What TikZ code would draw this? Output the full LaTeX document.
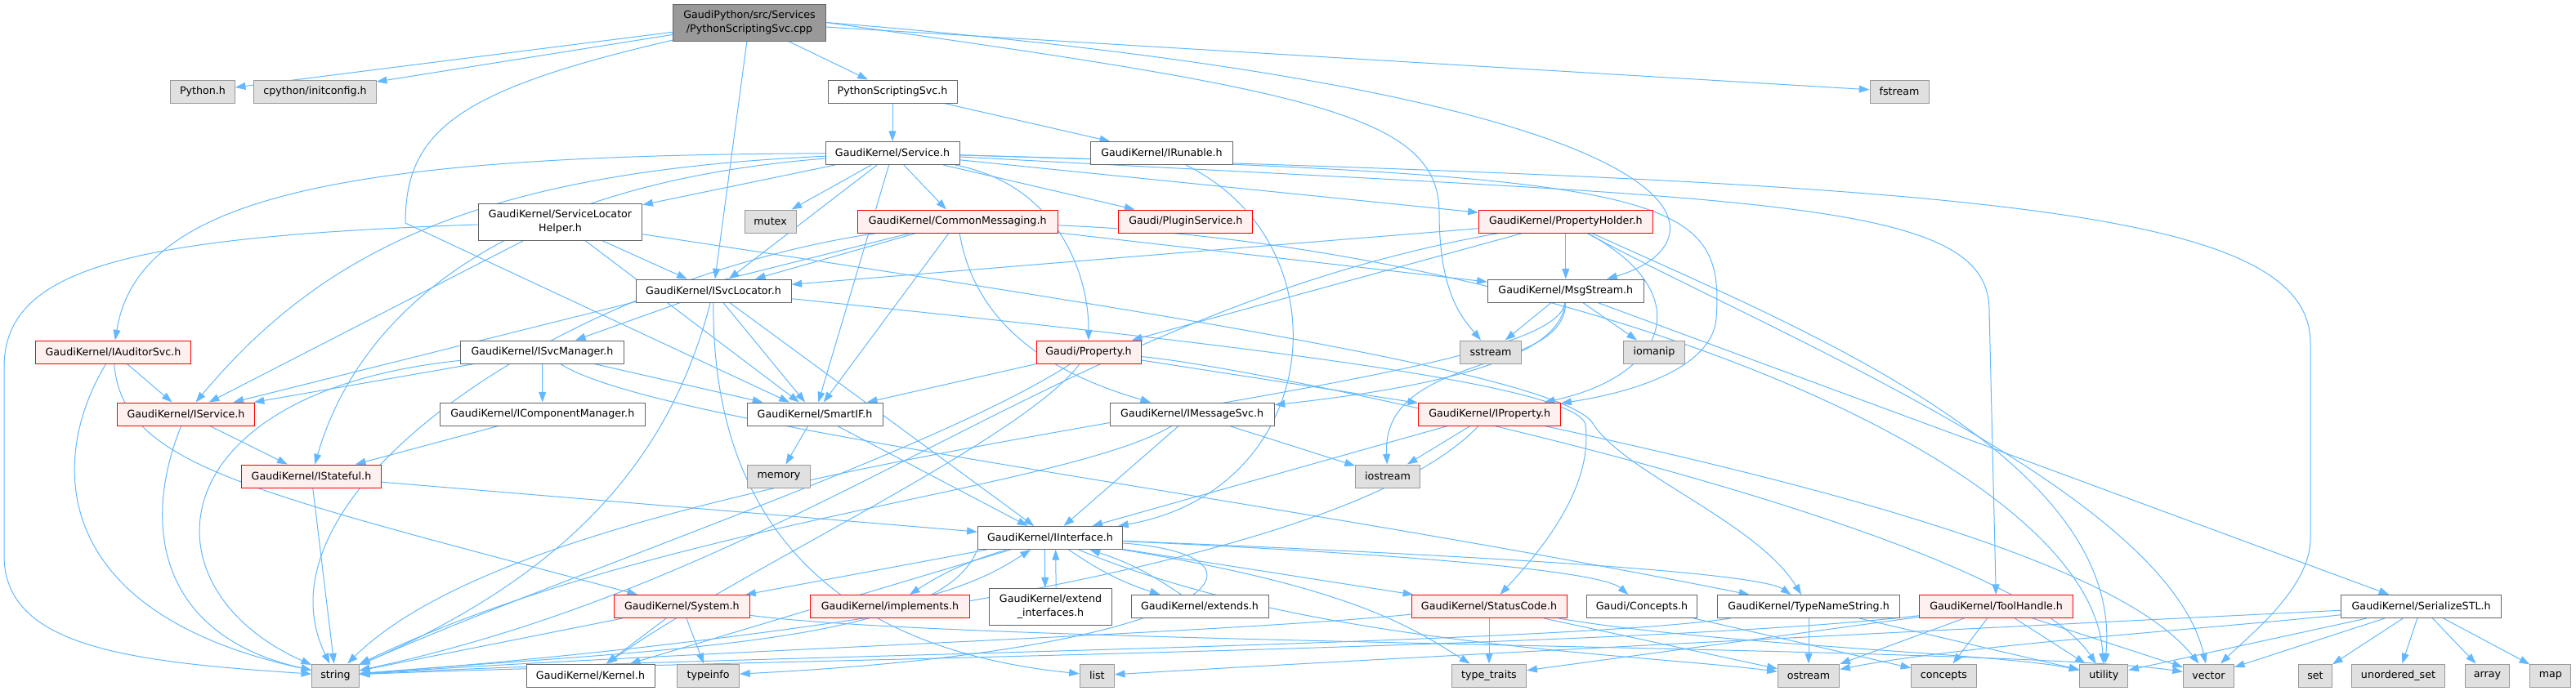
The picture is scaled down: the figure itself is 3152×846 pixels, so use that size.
\documentclass[tikz,border=0pt]{standalone}
\usepackage{fontspec}
\newfontfamily\dox{DejaVu Sans}
\usepackage{xcolor}
\usepackage{tikz}
\usetikzlibrary{arrows.meta}
\pgfdeclarelayer{background}
\pgfsetlayers{background,main}
\definecolor{edgeblue}{HTML}{63B8FF}
\definecolor{grey40}{HTML}{666666}
\definecolor{grey60}{HTML}{999999}
\definecolor{sysfill}{HTML}{E0E0E0}
\definecolor{truncfill}{HTML}{FFF0F0}
\tikzstyle{hdr}=[draw=grey40,fill=white,line width=.75pt,inner sep=0pt,minimum height=21pt,align=center,font=\dox\fontsize{9.5}{12.5}\selectfont]
\tikzstyle{trunc}=[hdr,draw=red,fill=truncfill]
\tikzstyle{sys}=[hdr,draw=grey60,fill=sysfill]
\tikzstyle{rootbox}=[hdr,fill=grey60]
\tikzstyle{twoline}=[minimum height=33.75pt]
\tikzstyle{inchead}=[>/.tip={Triangle[length=9.5pt,width=6.7pt]}]
\tikzstyle{inc}=[line width=.75pt,draw=edgeblue,inchead,->]

\begin{document}
\begin{tikzpicture}[x=0.75pt,y=-0.75pt]
	\useasboundingbox (0,0) rectangle (3152,846);
	% files
	\node[rootbox,twoline,minimum width=140.25pt] (root) at (917,27.5) {GaudiPython/src/Services\\/PythonScriptingSvc.cpp};
	\node[sys,minimum width=58.9pt]    (python)     at (248,112)    {Python.h};
	\node[sys,minimum width=112.1pt]   (initcfg)    at (385.5,112)  {cpython/initconfig.h};
	\node[hdr,minimum width=118.5pt]   (pysvch)     at (1092,112)   {PythonScriptingSvc.h};
	\node[sys,minimum width=54pt]      (fstream)    at (2324,112)   {fstream};
	\node[hdr,minimum width=123pt]     (service)    at (1092,187.5) {GaudiKernel/Service.h};
	\node[hdr,minimum width=130.1pt]   (irunable)   at (1421.5,187.5) {GaudiKernel/IRunable.h};
	\node[hdr,twoline,minimum width=150.4pt] (slhelper) at (685.5,271.5) {GaudiKernel/ServiceLocator\\Helper.h};
	\node[sys,minimum width=47.25pt]   (mutex)      at (942.6,271)  {mutex};
	\node[trunc,minimum width=183.75pt] (commsg)    at (1171.7,271) {GaudiKernel/CommonMessaging.h};
	\node[trunc,minimum width=123pt]   (plugin)     at (1450.8,271) {Gaudi/PluginService.h};
	\node[trunc,minimum width=159.75pt] (propholder) at (1915.8,271) {GaudiKernel/PropertyHolder.h};
	\node[hdr,minimum width=142.5pt]   (isvcloc)    at (873,356)    {GaudiKernel/ISvcLocator.h};
	\node[hdr,minimum width=143.25pt]  (msgstream)  at (1915.8,356) {GaudiKernel/MsgStream.h};
	\node[trunc,minimum width=142.5pt] (iauditor)   at (138.5,431)  {GaudiKernel/IAuditorSvc.h};
	\node[hdr,minimum width=149.6pt]   (isvcmgr)    at (663.5,431)  {GaudiKernel/ISvcManager.h};
	\node[trunc,minimum width=96pt]    (property)   at (1332,431)   {Gaudi/Property.h};
	\node[sys,minimum width=55.9pt]    (sstream)    at (1824,431)   {sstream};
	\node[sys,minimum width=55.9pt]    (iomanip)    at (2024,431)   {iomanip};
	\node[trunc,minimum width=126pt]   (iservice)   at (227.5,507)  {GaudiKernel/IService.h};
	\node[hdr,minimum width=188.25pt]  (icompmgr)   at (663.8,507)  {GaudiKernel/IComponentManager.h};
	\node[hdr,minimum width=124.5pt]   (smartif)    at (997,507)    {GaudiKernel/SmartIF.h};
	\node[hdr,minimum width=150.75pt]  (imsgsvc)    at (1458.7,507) {GaudiKernel/IMessageSvc.h};
	\node[trunc,minimum width=130.5pt] (iproperty)  at (1822.7,507) {GaudiKernel/IProperty.h};
	\node[trunc,minimum width=128.25pt] (istateful) at (381,583)    {GaudiKernel/IStateful.h};
	\node[sys,minimum width=57.4pt]    (memory)     at (953,583)    {memory};
	\node[sys,minimum width=59.25pt]   (iostream)   at (1698,583)   {iostream};
	\node[hdr,minimum width=133.1pt]   (iinterface) at (1285,658.5) {GaudiKernel/IInterface.h};
	\node[trunc,minimum width=124.5pt] (system)     at (834.4,742.5) {GaudiKernel/System.h};
	\node[trunc,minimum width=145.8pt] (implements) at (1089,742.5) {GaudiKernel/implements.h};
	\node[hdr,twoline,minimum width=112.1pt] (extendif) at (1285.5,742.5) {GaudiKernel/extend\\\_interfaces.h};
	\node[hdr,minimum width=126pt]     (extends)    at (1468,742.5) {GaudiKernel/extends.h};
	\node[trunc,minimum width=142.5pt] (statuscode) at (1822,742.5) {GaudiKernel/StatusCode.h};
	\node[hdr,minimum width=101.25pt]  (concepts)   at (2009,742.5) {Gaudi/Concepts.h};
	\node[hdr,minimum width=167.6pt]   (typename)   at (2213,742.5) {GaudiKernel/TypeNameString.h};
	\node[trunc,minimum width=141pt]   (toolhandle) at (2442.6,742.5) {GaudiKernel/ToolHandle.h};
	\node[hdr,minimum width=147pt]     (serstl)     at (2962.6,742.5) {GaudiKernel/SerializeSTL.h};
	\node[sys,minimum width=43.3pt]    (string)     at (410.5,827)  {string};
	\node[hdr,minimum width=117.75pt]  (kernel)     at (722.5,827)  {GaudiKernel/Kernel.h};
	\node[sys,minimum width=57pt]      (typeinfo)   at (866.6,827)  {typeinfo};
	\node[sys,minimum width=31.5pt]    (list)       at (1342.3,827) {list};
	\node[sys,minimum width=68.6pt]    (typetraits) at (1822,827)   {type\_traits};
	\node[sys,minimum width=56.6pt]    (ostream)    at (2213,827)   {ostream};
	\node[sys,minimum width=59.6pt]    (conceptsstd) at (2378.5,827) {concepts};
	\node[sys,minimum width=44.25pt]   (utility)    at (2574.3,827) {utility};
	\node[sys,minimum width=46.5pt]    (vector)     at (2702.4,827) {vector};
	\node[sys,minimum width=30.75pt]   (set)        at (2833,827)   {set};
	\node[sys,minimum width=85.3pt]    (uset)       at (2934.5,827) {unordered\_set};
	\node[sys,minimum width=40.5pt]    (array)      at (3043.4,827) {array};
	\node[sys,minimum width=37.5pt]    (map)        at (3120.8,827) {map};
	% includes
	\begin{pgfonlayer}{background}
	\foreach \tgt in {python,initcfg,pysvch,isvcloc,fstream} \draw[inc] (root) -- (\tgt);
	\draw[inc] (root) .. controls (560,110) and (496,160) .. (496,273) -- (smartif);
	\draw[inc] (root.east) .. controls (2150,120) and (2110,300) .. (msgstream);
	\draw[inc] (root.east) .. controls (1600,110) and (1761,140) .. (1761,260) .. controls (1761,360) and (1790,390) .. (sstream);
	\foreach \tgt in {service,irunable} \draw[inc] (pysvch) -- (\tgt);
	\foreach \tgt in {isvcloc,slhelper,smartif,mutex,commsg,plugin,propholder} \draw[inc] (service) -- (\tgt);
	\draw[inc] (service) .. controls (420,190) and (170,240) .. (iauditor);
	\draw[inc] (service) .. controls (600,210) and (400,300) .. (iservice);
	\draw[inc] (service) .. controls (620,225) and (440,380) .. (istateful);
	\draw[inc] (service) .. controls (1290,225) and (1332,330) .. (property);
	\draw[inc] (service) .. controls (2050,215) and (2110,240) .. (2100,390) .. controls (2095,450) and (2000,480) .. (iproperty);
	\draw[inc] (service) .. controls (2150,245) and (2434,240) .. (2434,380) -- (toolhandle);
	\draw[inc] (service) .. controls (2400,225) and (2827,250) .. (2827,420) -- (2827,660) .. controls (2827,720) and (2750,780) .. (vector);
	\draw[inc] (irunable) .. controls (1650,300) and (1620,600) .. (iinterface);
	\foreach \tgt in {iservice,smartif,isvcloc} \draw[inc] (slhelper) -- (\tgt);
	\draw[inc] (slhelper) .. controls (150,290) and (5,330) .. (5,450) -- (5,680) .. controls (5,790) and (150,810) .. (string);
	\draw[inc] (slhelper) .. controls (1400,380) and (1920,460) .. (1950,520) .. controls (1990,580) and (2150,640) .. (typename);
	\foreach \tgt in {isvcloc,smartif,msgstream,iservice} \draw[inc] (commsg) -- (\tgt);
	\draw[inc] (commsg) .. controls (1190,380) and (1260,450) .. (imsgsvc);
	\draw[inc] (commsg) .. controls (700,340) and (300,600) .. (string);
	\draw[inc] (commsg) .. controls (1900,300) and (2560,560) .. (utility);
	\foreach \tgt in {isvcloc,property,msgstream} \draw[inc] (propholder) -- (\tgt);
	\draw[inc] (propholder) .. controls (2080,360) and (2040,460) .. (iproperty);
	\draw[inc] (propholder) .. controls (1300,380) and (1000,700) .. (string);
	\draw[inc] (propholder) .. controls (2200,400) and (2600,560) .. (utility);
	\draw[inc] (propholder) .. controls (2150,400) and (2650,600) .. (vector);
	\foreach \tgt in {isvcmgr,smartif,iinterface} \draw[inc] (isvcloc) -- (\tgt);
	\draw[inc] (isvcloc) .. controls (820,560) and (700,700) .. (string);
	\draw[inc] (isvcloc) .. controls (871,600) and (980,790) .. (list);
	\draw[inc] (isvcloc) .. controls (1500,420) and (1930,470) .. (1940,520) .. controls (1950,600) and (1880,680) .. (statuscode);
	\foreach \tgt in {sstream,iomanip,serstl} \draw[inc] (msgstream) -- (\tgt);
	\draw[inc] (msgstream) .. controls (1910,450) and (1700,480) .. (imsgsvc);
	\draw[inc] (msgstream) .. controls (1915,460) and (1690,430) .. (iostream);
	\draw[inc] (msgstream) .. controls (1905,490) and (700,540) .. (string);
	\draw[inc] (iauditor) -- (iservice);
	\draw[inc] (iauditor) .. controls (60,560) and (56,750) .. (string);
	\draw[inc] (iauditor) .. controls (150,570) and (300,600) .. (system);
	\foreach \tgt in {iservice,icompmgr,smartif} \draw[inc] (isvcmgr) -- (\tgt);
	\draw[inc] (isvcmgr) .. controls (190,480) and (170,720) .. (string);
	\draw[inc] (isvcmgr) .. controls (800,520) and (1500,600) .. (typename);
	\draw[inc] (icompmgr) -- (istateful);
	\draw[inc] (iservice) -- (istateful);
	\draw[inc] (iservice) .. controls (170,650) and (200,780) .. (string);
	\foreach \tgt in {iinterface,string} \draw[inc] (istateful) -- (\tgt);
	\foreach \tgt in {memory,iinterface} \draw[inc] (smartif) -- (\tgt);
	\foreach \tgt in {smartif,iproperty} \draw[inc] (property) -- (\tgt);
	\draw[inc] (property) .. controls (1150,550) and (700,700) .. (string);
	\draw[inc] (property) .. controls (1250,540) and (900,700) .. (kernel);
	\draw[inc] (property) .. controls (1550,450) and (2450,640) .. (utility);
	\foreach \tgt in {iinterface,iostream} \draw[inc] (imsgsvc) -- (\tgt);
	\draw[inc] (imsgsvc) .. controls (1300,600) and (800,640) .. (string);
	\foreach \tgt in {iostream,iinterface} \draw[inc] (iproperty) -- (\tgt);
	\draw[inc] (iproperty) .. controls (2300,610) and (2600,700) .. (vector);
	\draw[inc] (iproperty) .. controls (1640,700) and (900,790) .. (string);
	\foreach \tgt in {system,statuscode,kernel} \draw[inc] (iinterface) -- (\tgt);
	\draw[inc] (iinterface.south west) .. controls (1150,790) and (800,795) .. (string);
	\draw[inc] (iinterface) .. controls (1750,680) and (1960,700) .. (concepts);
	\draw[inc] (iinterface) .. controls (1800,680) and (2150,700) .. (typename);
	\draw[inc] (iinterface) .. controls (1660,720) and (1730,770) .. (typetraits);
	\draw[inc] (iinterface) .. controls (1600,790) and (2000,800) .. (ostream);
	\draw[inc] (iinterface) .. controls (1580,680) and (1500,795) .. (typeinfo);
	\draw[inc] (iinterface) to[bend right=8] (implements);
	\draw[inc] (implements) to[bend right=8] (iinterface);
	\draw[inc] ([xshift=-5pt]iinterface.south) -- ([xshift=-5pt]extendif.north);
	\draw[inc] ([xshift=5pt]extendif.north) -- ([xshift=5pt]iinterface.south);
	\draw[inc] (iinterface) to[bend right=8] (extends);
	\draw[inc] (extends) to[bend right=8] (iinterface);
	\foreach \tgt in {string,kernel,typeinfo} \draw[inc] (system) -- (\tgt);
	\draw[inc] (system) .. controls (1200,790) and (2450,790) .. (vector);
	\foreach \tgt in {typetraits,ostream} \draw[inc] (statuscode) -- (\tgt);
	\draw[inc] (statuscode) .. controls (1500,775) and (800,800) .. (string);
	\draw[inc] (statuscode) .. controls (2100,790) and (2450,800) .. (utility);
	\draw[inc] (concepts) -- (conceptsstd);
	\foreach \tgt in {ostream,utility} \draw[inc] (typename) -- (\tgt);
	\draw[inc] (typename) .. controls (1900,790) and (800,805) .. (string);
	\foreach \tgt in {typetraits,ostream,conceptsstd,utility,vector} \draw[inc] (toolhandle) -- (\tgt);
	\draw[inc] (toolhandle) .. controls (2000,795) and (800,810) .. (string);
	\foreach \tgt in {utility,vector,set,uset,array,map} \draw[inc] (serstl) -- (\tgt);
	\draw[inc] (serstl) .. controls (2700,770) and (2400,790) .. (ostream);
	\draw[inc] (serstl) .. controls (2500,765) and (1800,800) .. (list);
	\end{pgfonlayer}
\end{tikzpicture}
\end{document}
